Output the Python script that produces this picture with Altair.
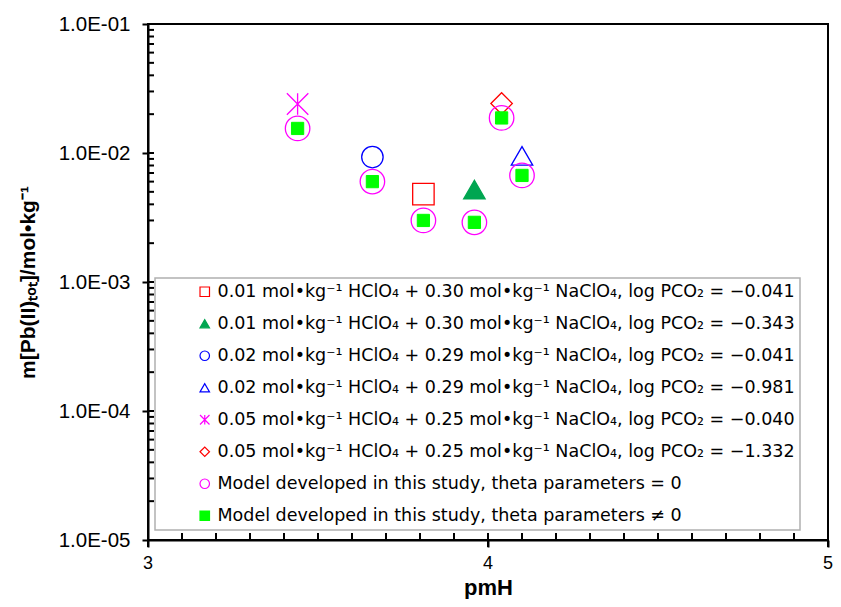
import altair as alt
import pandas as pd

# ---- data ----
labels = [
    "0.01 mol•kg⁻¹ HClO₄ + 0.30 mol•kg⁻¹ NaClO₄, log PCO₂ = −0.041",
    "0.01 mol•kg⁻¹ HClO₄ + 0.30 mol•kg⁻¹ NaClO₄, log PCO₂ = −0.343",
    "0.02 mol•kg⁻¹ HClO₄ + 0.29 mol•kg⁻¹ NaClO₄, log PCO₂ = −0.041",
    "0.02 mol•kg⁻¹ HClO₄ + 0.29 mol•kg⁻¹ NaClO₄, log PCO₂ = −0.981",
    "0.05 mol•kg⁻¹ HClO₄ + 0.25 mol•kg⁻¹ NaClO₄, log PCO₂ = −0.040",
    "0.05 mol•kg⁻¹ HClO₄ + 0.25 mol•kg⁻¹ NaClO₄, log PCO₂ = −1.332",
    "Model developed in this study, theta parameters = 0",
    "Model developed in this study, theta parameters ≠ 0",
]
ASTERISK = "M-1,-1L1,1M-1,1L1,-1M0,-1L0,1"
shapes = ["square", "triangle-up", "circle", "triangle-up", ASTERISK, "diamond", "circle", "square"]
strokes = ["#ff0000", "#00a651", "#0000ff", "#0000ff", "#ff00ff", "#ff0000", "#ff00ff", "#00ff00"]
fills = ["transparent", "#00a651", "transparent", "transparent", "transparent", "transparent", "transparent", "#00ff00"]

exp_ph = [3.81, 3.96, 3.66, 4.10, 3.44, 4.04]
exp_m = [0.0048, 0.0052, 0.0093, 0.0095, 0.0240, 0.0242]

mod_ph = [3.44, 3.66, 3.81, 3.96, 4.04, 4.10]
mod0_m = [0.0155, 0.0060, 0.0030, 0.0029, 0.0187, 0.0067]
mod1_m = [0.0155, 0.0060, 0.0030, 0.0029, 0.0187, 0.0067]

y_major = [1e-5, 1e-4, 1e-3, 1e-2, 1e-1]
y_minor = [k * 10.0 ** e for e in (-5, -4, -3, -2) for k in range(2, 10)]
x_major = [3.0, 4.0, 5.0]
x_tick_labels = ["3", "4", "5"]
x_minor = [round(3 + i / 10, 1) for i in range(1, 20) if i != 10]

W, H = 680, 516

rows = []
for i, (p, m) in enumerate(zip(exp_ph, exp_m)):
    rows.append({"pmH": p, "m": m, "series": labels[i], "kind": "exp"})
for p, m in zip(mod_ph, mod0_m):
    rows.append({"pmH": p, "m": m, "series": labels[6], "kind": "mod0"})
for p, m in zip(mod_ph, mod1_m):
    rows.append({"pmH": p, "m": m, "series": labels[7], "kind": "mod1"})
df = pd.DataFrame(rows)

xscale = alt.Scale(domain=[3, 5], nice=False, zero=False)
yscale = alt.Scale(type="log", domain=[1e-5, 1e-1], nice=False)

x_axis = alt.Axis(
    values=x_major, tickCount=10, labels=False, title="pmH", grid=False,
    titleFontSize=22, titleFont="Liberation Sans", titleFontWeight="bold", titlePadding=29,
    tickSize=7, tickWidth=2, domainWidth=2, domainColor="black", tickColor="black",
    titleColor="black")
y_axis = alt.Axis(
    values=y_major, tickCount=10, grid=False, labelOverlap=False, labelFlush=False,
    labelExpr="'1.0E-' + format(-round(log(datum.value)/LN10), '02d')",
    title="m[Pb(II)ₜₒₜ]/mol•kg⁻¹",
    labelFontSize=20.5, labelFont="Liberation Sans", labelPadding=12,
    titleFontSize=21, titleFont="Liberation Sans", titleFontWeight="bold", titlePadding=20,
    tickSize=6, tickWidth=2, domainWidth=2, domainColor="black", tickColor="black",
    labelColor="black", titleColor="black")

X = alt.X("pmH:Q", scale=xscale, axis=x_axis)
Y = alt.Y("m:Q", scale=yscale, axis=y_axis)

legend = alt.Legend(
    title=None, orient="none", legendX=7, legendY=254,
    fillColor="white", strokeColor="#b0b0b0",
    padding=5, rowPadding=13.0, symbolSize=90, symbolStrokeWidth=1.2,
    symbolOffset=36, labelOffset=4,
    labelFont="DejaVu Sans", labelFontSize=17.5, labelColor="black", labelLimit=0,
)

shape_enc = alt.Shape("series:N", scale=alt.Scale(domain=labels, range=shapes), legend=legend)
stroke_enc = alt.Stroke("series:N", scale=alt.Scale(domain=labels, range=strokes), legend=legend)
fill_enc = alt.Fill("series:N", scale=alt.Scale(domain=labels, range=fills), legend=legend)

base = alt.Chart(df)

exp_layer = base.transform_filter(alt.datum.kind == "exp").mark_point(
    size=460, strokeWidth=1.3, opacity=1
).encode(x=X, y=Y, shape=shape_enc, stroke=stroke_enc, fill=fill_enc)

mod0_layer = base.transform_filter(alt.datum.kind == "mod0").mark_point(
    size=600, strokeWidth=1.3, opacity=1
).encode(x=X, y=Y, shape=shape_enc, stroke=stroke_enc, fill=fill_enc)

mod1_layer = base.transform_filter(alt.datum.kind == "mod1").mark_point(
    size=150, strokeWidth=1, opacity=1
).encode(x=X, y=Y, shape=shape_enc, stroke=stroke_enc, fill=fill_enc)

# inside tick marks (minor and major)
ytick_df = pd.DataFrame({"m": y_minor + y_major[1:-1]})
xtick_df = pd.DataFrame({"pmH": x_minor})
xmaj_df = pd.DataFrame({"pmH": x_major, "lab": x_tick_labels})
ytick_layer = alt.Chart(ytick_df).mark_rule(color="black", strokeWidth=2).encode(
    y=Y, x=alt.value(0), x2=alt.value(6))
xtick_layer = alt.Chart(xtick_df).mark_rule(color="black", strokeWidth=2).encode(
    x=X, y=alt.value(H), y2=alt.value(H - 7))
xmaj_layer = alt.Chart(xmaj_df).mark_rule(color="black", strokeWidth=2).encode(
    x=X, y=alt.value(H - 7), y2=alt.value(H + 7))
xlab_layer = alt.Chart(xmaj_df).mark_text(
    font="Liberation Sans", fontSize=18, baseline="top", align="center", color="black"
).encode(x=X, y=alt.value(H + 15), text="lab:N")

chart = alt.layer(exp_layer, mod0_layer, mod1_layer, ytick_layer, xtick_layer,
                  xmaj_layer, xlab_layer).properties(
    width=W, height=H, background="white",
    autosize=alt.AutoSizeParams(type="none"),
    padding={"left": 140, "top": 16, "right": 5, "bottom": 59},
).configure_view(stroke="black", strokeWidth=2).configure_legend(
    strokeWidth=1.5
)

chart.save("out.html", embed_options={"renderer": "svg", "actions": False})
